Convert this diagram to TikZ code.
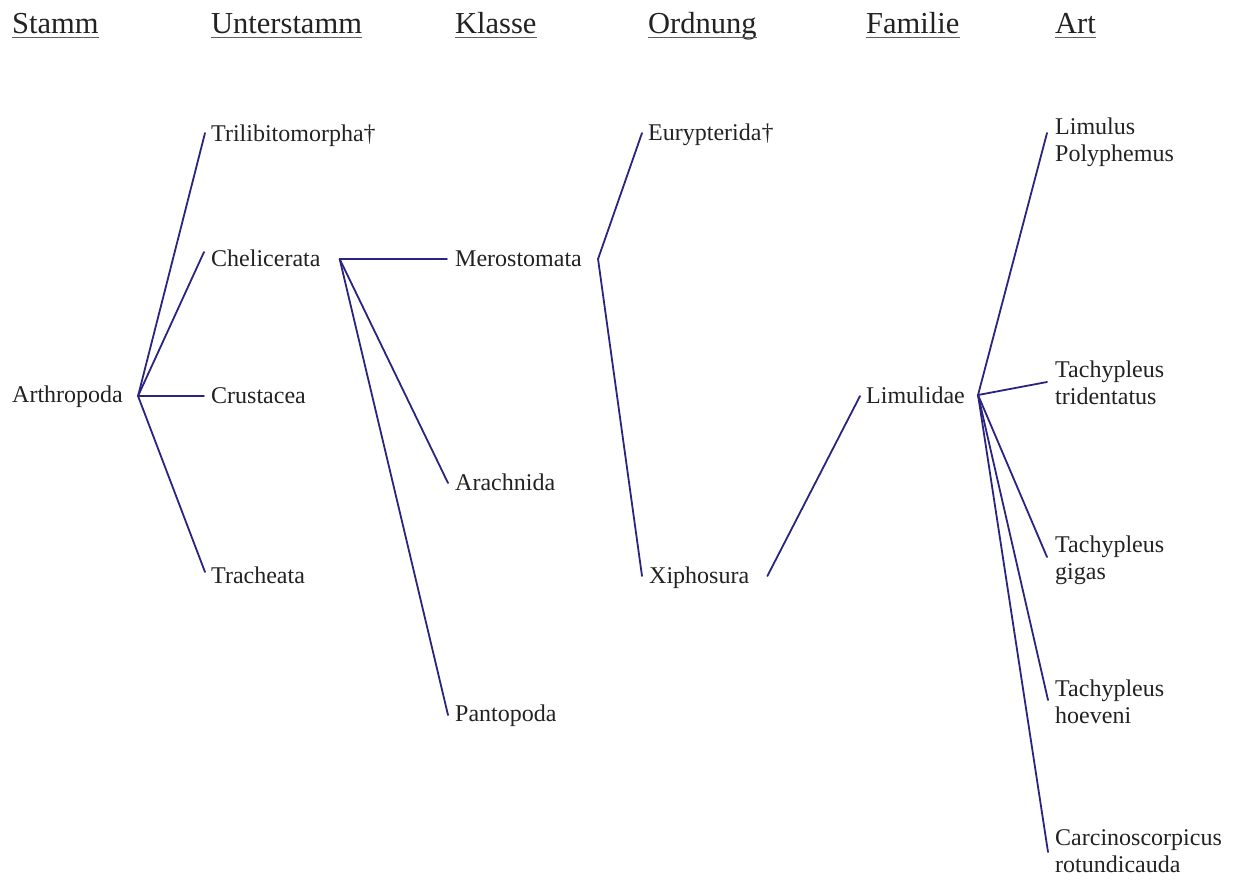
\documentclass[tikz,border=0pt]{standalone}
\usepackage{fontspec}
\setmainfont{Liberation Serif}
\definecolor{linkc}{RGB}{42,36,128}
\definecolor{txt}{RGB}{34,34,34}
\definecolor{ulc}{RGB}{95,95,95}
\tikzset{
  x=1pt, y=-1pt,
  taxon/.style={anchor=base west, inner sep=0pt, text=txt, font=\fontsize{24}{27}\selectfont},
  header/.style={anchor=base west, inner sep=0pt, text=txt, font=\fontsize{30.5}{33}\selectfont},
  ul/.style={draw=ulc, line width=1.8pt},
  link/.style={draw=linkc, line width=1.8pt, line cap=round}
}
\newcommand{\twoline}[2]{\begin{tabular}[t]{@{}l@{}}#1\\#2\end{tabular}}
\begin{document}
\begin{tikzpicture}
\useasboundingbox (0,0) rectangle (1236,879);
% headers
\node[header] (hStamm) at (12,33) {Stamm};
\node[header] (hUnter) at (211,33) {Unterstamm};
\node[header] (hKlasse) at (455,33) {Klasse};
\node[header] (hOrd) at (648,33) {Ordnung};
\node[header] (hFam) at (866,33) {Familie};
\node[header] (hArt) at (1055,33) {Art};
\foreach \h in {hStamm,hUnter,hKlasse,hOrd,hFam,hArt}
  \draw[ul] ([yshift=-4.5pt]\h.base west) -- ([yshift=-4.5pt]\h.base east);
% taxa
\node[taxon] (arth) at (12,402) {Arthropoda};
\node[taxon] (trilo) at (211,141) {Trilibitomorpha†};
\node[taxon] (chel) at (211,266) {Chelicerata};
\node[taxon] (crus) at (211,403) {Crustacea};
\node[taxon] (trach) at (211,583) {Tracheata};
\node[taxon] (mero) at (455,266) {Merostomata};
\node[taxon] (arach) at (455,490) {Arachnida};
\node[taxon] (panto) at (455,721) {Pantopoda};
\node[taxon] (eury) at (648,140) {Eurypterida†};
\node[taxon] (xiph) at (649,583) {Xiphosura};
\node[taxon] (limd) at (866,403) {Limulidae};
\node[taxon] (lpoly) at (1055,134) {\twoline{Limulus}{Polyphemus}};
\node[taxon] (ttri) at (1055,377) {\twoline{Tachypleus}{tridentatus}};
\node[taxon] (tgig) at (1055,552) {\twoline{Tachypleus}{gigas}};
\node[taxon] (thoe) at (1055,696) {\twoline{Tachypleus}{hoeveni}};
\node[taxon] (carc) at (1055,845) {\twoline{Carcinoscorpicus}{rotundicauda}};
% hubs
\coordinate (hA) at ([shift={(15pt,6pt)}]arth.base east);
\coordinate (hC) at ([shift={(19pt,7pt)}]chel.base east);
\coordinate (hM) at ([shift={(16pt,7pt)}]mero.base east);
\coordinate (hX) at ([shift={(18pt,7pt)}]xiph.base east);
\coordinate (hL) at ([shift={(13pt,8pt)}]limd.base east);
% connectors
\draw[link] (hA) -- ([shift={(-6pt,8pt)}]trilo.base west);
\draw[link] (hA) -- ([shift={(-7pt,14pt)}]chel.base west);
\draw[link] (hA) -- ([shift={(-7pt,7pt)}]crus.base west);
\draw[link] (hA) -- ([shift={(-6pt,11pt)}]trach.base west);
\draw[link] (hC) -- ([shift={(-8pt,7pt)}]mero.base west);
\draw[link] (hC) -- ([shift={(-7pt,7pt)}]arach.base west);
\draw[link] (hC) -- ([shift={(-7pt,6pt)}]panto.base west);
\draw[link] (hM) -- ([shift={(-6pt,7pt)}]eury.base west);
\draw[link] (hM) -- ([shift={(-7pt,7pt)}]xiph.base west);
\draw[link] (hX) -- ([shift={(-6pt,7pt)}]limd.base west);
\draw[link] (hL) -- ([shift={(-8pt,1pt)}]lpoly.base west);
\draw[link] (hL) -- ([shift={(-8pt,-5pt)}]ttri.base west);
\draw[link] (hL) -- ([shift={(-8pt,-5pt)}]tgig.base west);
\draw[link] (hL) -- ([shift={(-7pt,-4pt)}]thoe.base west);
\draw[link] (hL) -- ([shift={(-7pt,-7pt)}]carc.base west);
\end{tikzpicture}
\end{document}
